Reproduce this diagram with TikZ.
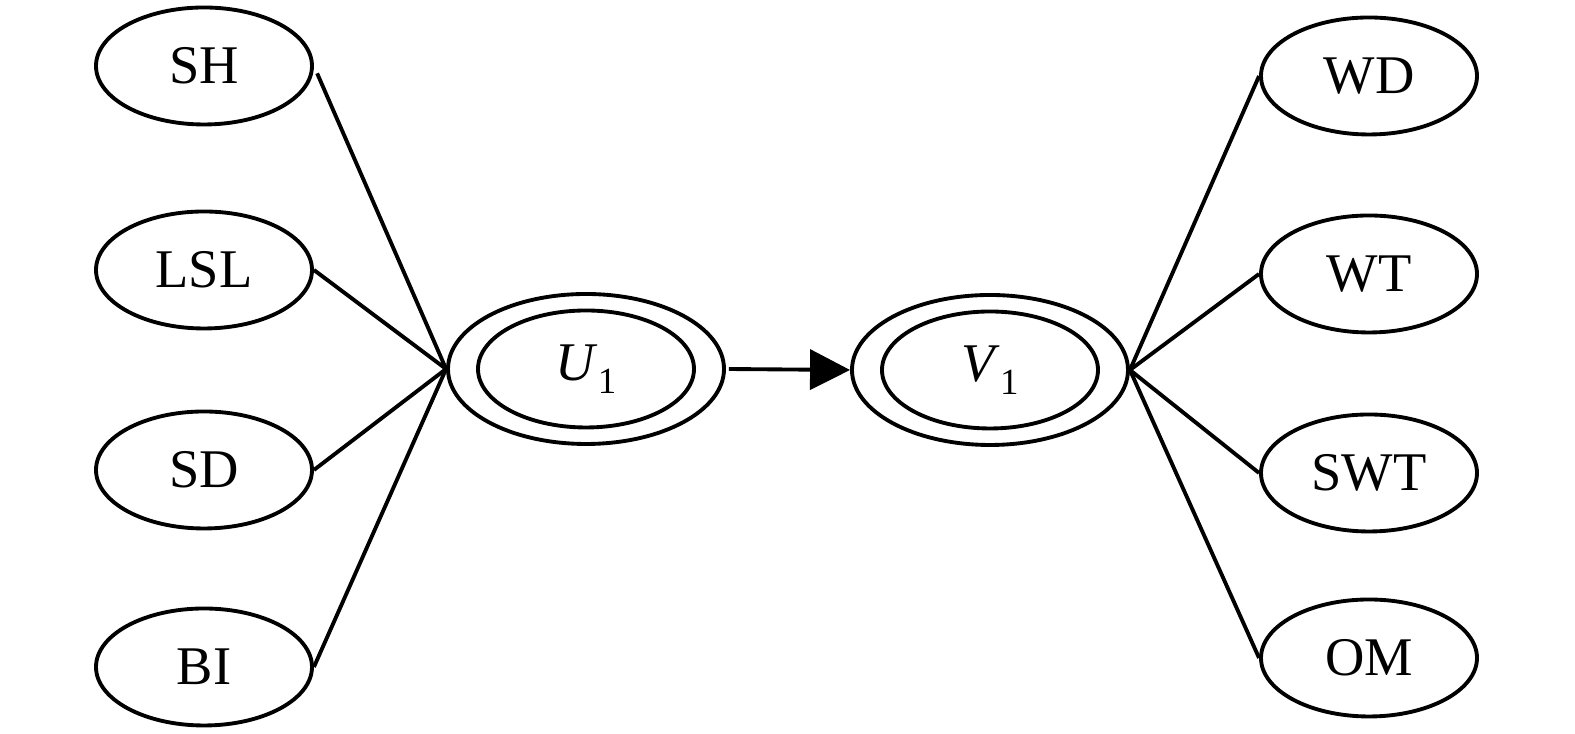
\documentclass[tikz,border=0pt]{standalone}
\usepackage{fontspec}
\setmainfont{Liberation Serif}
\usepackage{tikz}
\usetikzlibrary{shapes.geometric,arrows.meta}

\newcommand{\lowidx}[1]{\raisebox{-0.5ex}{\fontsize{10.5}{12}\selectfont #1}}

\begin{document}
\begin{tikzpicture}[
	factor/.style={shape=ellipse,draw=black,line width=1.1pt,minimum width=2.16cm,minimum height=1.17cm,inner sep=0pt,font=\fontsize{15.5}{18}\selectfont},
	latent/.style={shape=ellipse,draw=black,line width=1.1pt,minimum width=2.76cm,minimum height=1.50cm,inner sep=0pt}]
	
	\useasboundingbox (0, 0) rectangle (15.75, 7.34);
	
	\node[factor] (SH)  at (2.04, 6.68)  {SH};
	\node[factor] (LSL) at (2.04, 4.64)  {LSL};
	\node[factor] (SD)  at (2.04, 2.64)  {SD};
	\node[factor] (BI)  at (2.04, 0.67)  {BI};
	\node[latent] (U)   at (5.86, 3.65)  {};
	\node[factor] (Uin) at (5.86, 3.65)  {\textit{U}\lowidx{1}};
	\node[latent] (V)   at (9.90, 3.64)  {};
	\node[factor] (Vin) at (9.90, 3.64)  {\textit{V}\lowidx{1}};
	\node[factor] (WD)  at (13.69, 6.58) {WD};
	\node[factor] (WT)  at (13.69, 4.60) {WT};
	\node[factor] (SWT) at (13.69, 2.61) {SWT};
	\node[factor] (OM)  at (13.69, 0.76) {OM};
	\path[-,line width=1.1pt] (SH.east)  edge[shorten <=0.08cm] (U.west);
	\path[-,line width=1.1pt] (LSL.east) edge (U.west);
	\path[-,line width=1.1pt] (SD.east)  edge (U.west);
	\path[-,line width=1.1pt] (BI.east)  edge (U.west);
	\path[-,line width=1.1pt] (V.east)   edge (WD.west);
	\path[-,line width=1.1pt] (V.east)   edge (WT.west);
	\path[-,line width=1.1pt] (V.east)   edge (SWT.west);
	\path[-,line width=1.1pt] (V.east)   edge (OM.west);
	\path[-{Triangle[length=0.40cm,width=0.40cm]},line width=1.1pt] (U.east) edge[shorten <=0.03cm] (V.west);
	
\end{tikzpicture}
\end{document}
